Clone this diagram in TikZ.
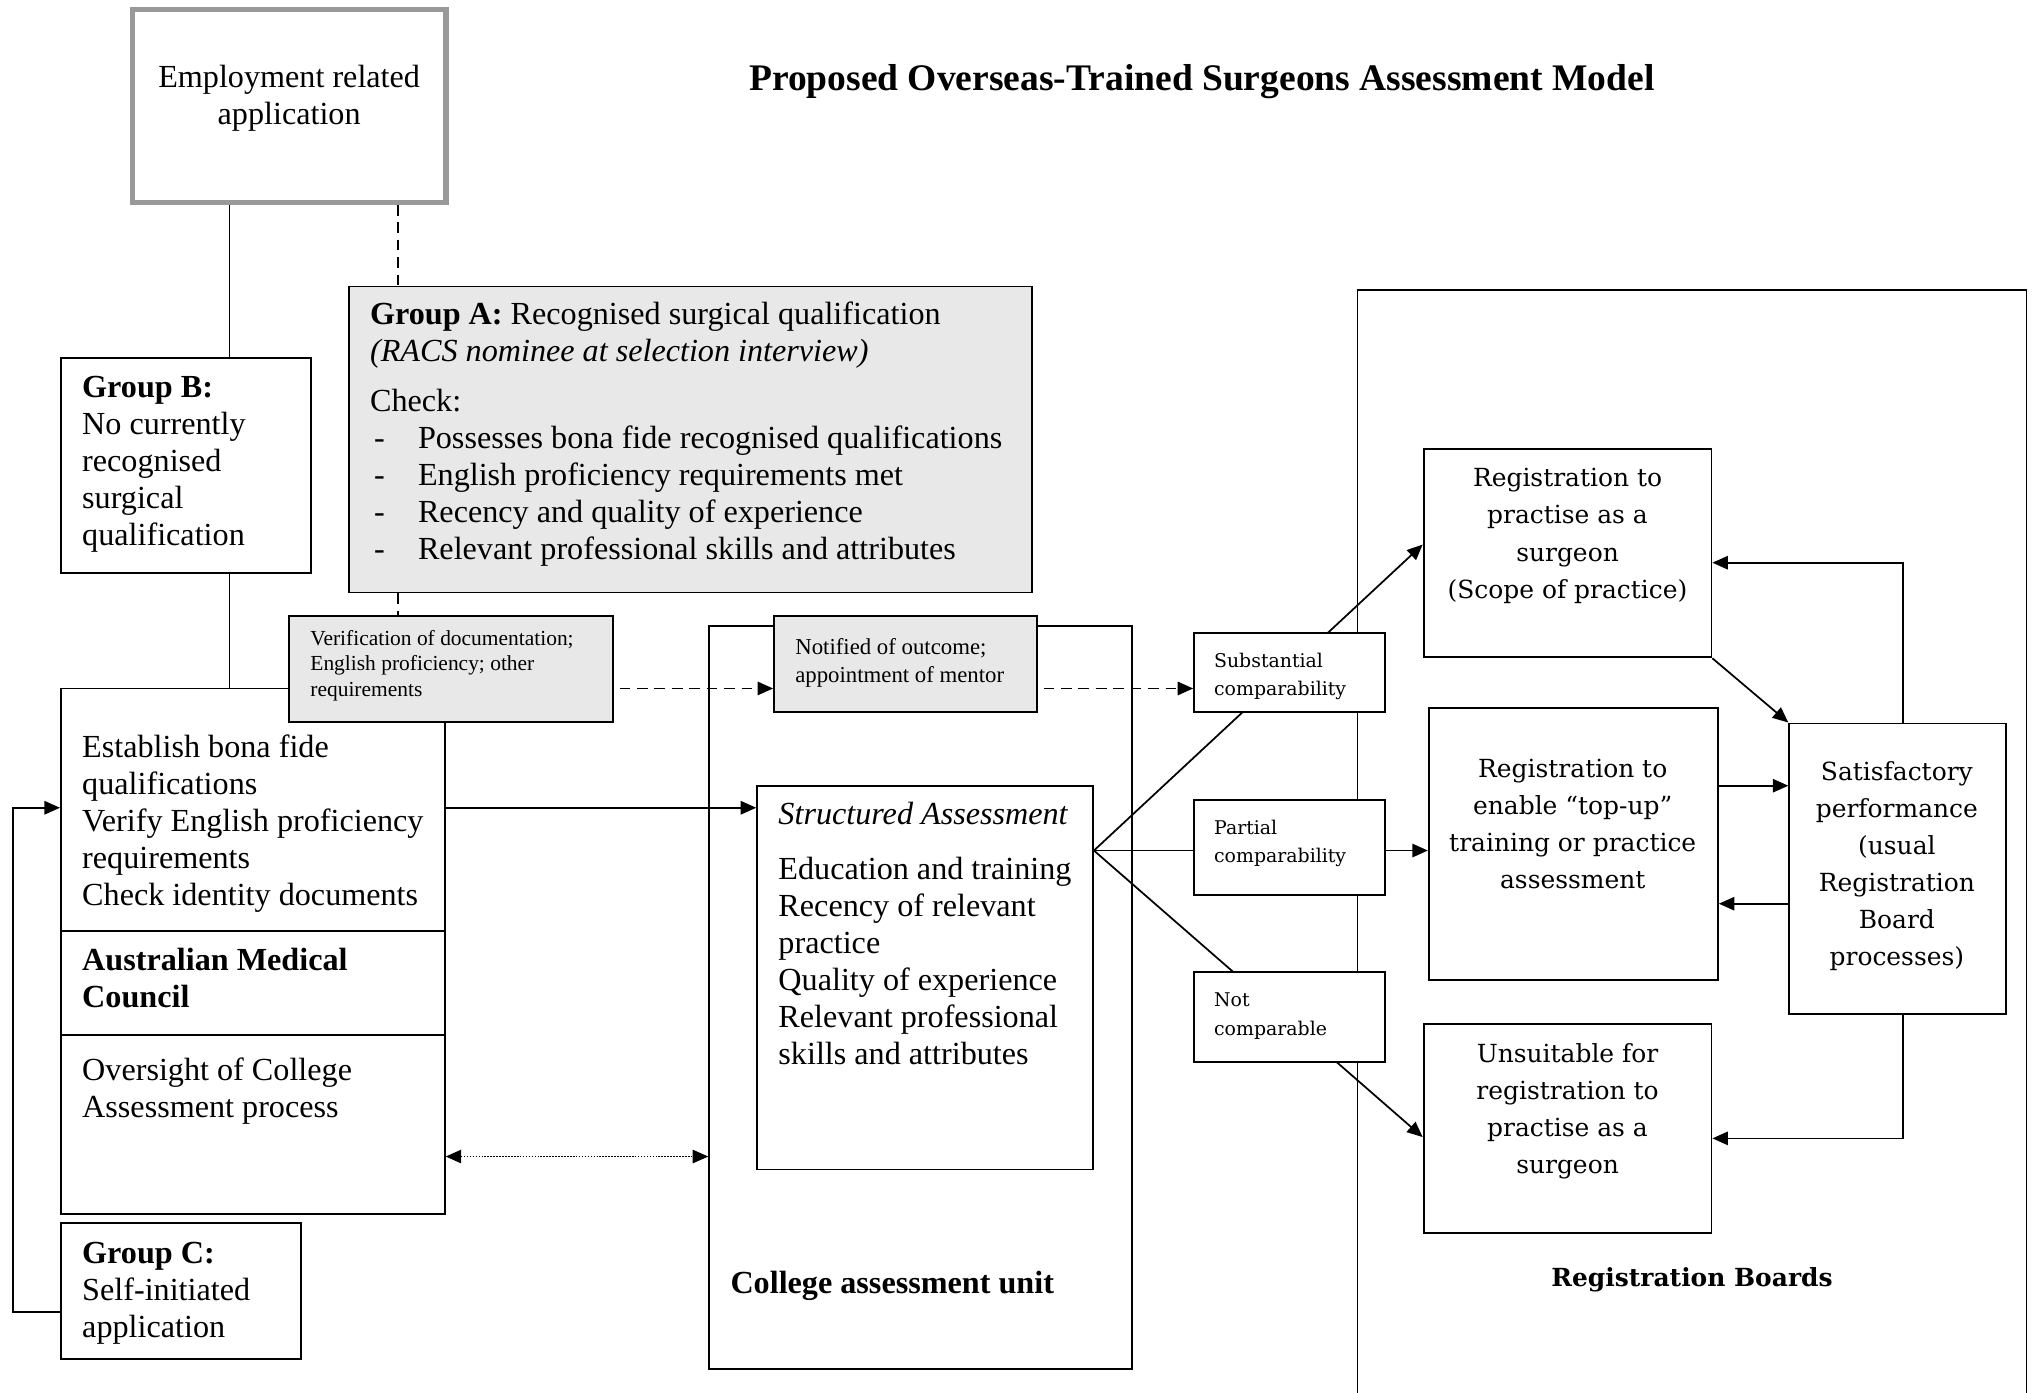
\documentclass[tikz,border=0pt]{standalone}
\usepackage{fontspec}
\setmainfont{Liberation Serif}
\newfontfamily\dvs{DejaVu Serif}
\usetikzlibrary{arrows.meta,fit}

\begin{document}
\begin{tikzpicture}[x=0.017cm,y=-0.017cm]
    \tikzset{
        box/.style={draw=black, line width=0.7pt, inner sep=0pt, fill=white},
        shaded/.style={box, fill=black!9},
        txt/.style={anchor=base west, inner sep=0pt, align=left, font=\fontsize{12}{13.8}\selectfont},
        small/.style={anchor=base west, inner sep=0pt, align=left, font=\fontsize{8}{9.4}\selectfont},
        rtxt/.style={anchor=base, inner sep=0pt, align=center, font=\dvs\fontsize{9.3}{13.85}\selectfont},
        rsmall/.style={anchor=base west, inner sep=0pt, align=left, font=\dvs\fontsize{7.05}{10.6}\selectfont},
        tip/.tip={Triangle[length=5.8pt,width=5pt]},
        link/.style={line width=0.65pt},
        arr/.style={link, -tip},
        dash link/.style={link, dash pattern=on 4pt off 2.5pt},
    }
    \useasboundingbox (0,0) rectangle (1568,1074);

    % helper coordinates for the connector heights
    \coordinate (bx) at (177,0);
    \coordinate (ax) at (307,0);
    \coordinate (sx) at (1468,0);
    \coordinate (dy) at (0,531);
    \coordinate (sy) at (0,623);
    \coordinate (fy) at (0,656);
    \coordinate (ddy) at (0,892);
    \coordinate (gcy) at (0,1012);
    \coordinate (r1y) at (0,420);
    \coordinate (r3y) at (0,877);
    \coordinate (p2y) at (0,606);
    \coordinate (p3y) at (0,697);
    \coordinate (t1y) at (0,434);
    \coordinate (t3y) at (0,878);

    % large frames
    \node[box, fill=none, fit={(1047,224) (1563,1110)}] (boards) {};
    \node[box, fit={(547,483) (873,1056)}] (college) {};
    \node[box, fit={(47,531) (343,936)}] (amc) {};
    \draw[box] (amc.west |- 0,718) -- (amc.east |- 0,718);
    \draw[box] (amc.west |- 0,798) -- (amc.east |- 0,798);

    \node[draw=black!40, line width=1.9pt, inner sep=0pt, fit={(102,7) (344,156)}] (emp) {};
    \node[shaded, fit={(269,221) (796,457)}] (grpA) {};
    \node[box, fit={(47,276) (240,442)}] (grpB) {};
    \node[box, fit={(47,943) (232,1048)}] (grpC) {};
    \node[box, fit={(584,606) (843,902)}] (struct) {};

    \node[box, fit={(1098,346) (1320,507)}] (reg1) {};
    \node[box, fit={(1102,546) (1325,756)}] (reg2) {};
    \node[box, fit={(1098,790) (1320,951)}] (reg3) {};
    \node[box, fit={(1380,558) (1547,782)}] (sat) {};

    % solid lines from the application box down the left side
    \draw[link] (emp.south -| bx) -- (grpB.north -| bx);
    \draw[link] (grpB.south -| bx) -- (amc.north -| bx);
    \draw[dash link] (emp.south -| ax) -- (grpA.north -| ax);

    % outcome fan, partly hidden by the outcome boxes
    \draw[arr] (struct.east |- fy) -- (reg1.west |- r1y);
    \draw[arr] (struct.east |- fy) -- (reg3.west |- r3y);

    \node[shaded, fit={(223,475) (473,557)}] (verif) {};
    \node[shaded, fit={(597,475) (800,549)}] (notif) {};
    \draw[dash link] (grpA.south -| ax) -- (verif.north -| ax);

    \node[box, fit={(921,488) (1068,549)}] (subst) {};
    \node[box, fit={(921,617) (1068,690)}] (partial) {};
    \node[box, fit={(921,750) (1068,819)}] (notcomp) {};
    \draw[link] (struct.east |- fy) -- (partial.west |- fy);
    \draw[arr] (partial.east |- fy) -- (reg2.west |- fy);

    % connectors
    \draw[dash link, -tip] ([xshift=2pt]verif.east |- dy) -- (notif.west |- dy);
    \draw[dash link, -tip] ([xshift=2pt]notif.east |- dy) -- (subst.west |- dy);
    \draw[arr] (amc.east |- sy) -- (struct.west |- sy);
    \draw[line width=0.5pt, dash pattern=on 0.6pt off 0.5pt, tip-tip]
        (amc.east |- ddy) -- (college.west |- ddy);
    \draw[arr] (grpC.west |- gcy) -- ++(-36,0) |- (amc.west |- sy);

    \draw[arr] (reg1.south east) -- (sat.north west);
    \draw[arr] (reg2.east |- p2y) -- (sat.west |- p2y);
    \draw[arr] (sat.west |- p3y) -- (reg2.east |- p3y);
    \draw[arr] (sat.north -| sx) |- (reg1.east |- t1y);
    \draw[arr] (sat.south -| sx) |- (reg3.east |- t3y);

    % texts (placed at the baseline of their last line)
    \node[anchor=base, inner sep=0pt, font=\bfseries\fontsize{14}{16}\selectfont] (title)
        at (927,69.5) {Proposed Overseas-Trained Surgeons Assessment Model};
    \node[txt, anchor=base, align=center] (emptext) at (223,96) {Employment related\\application};
    \node[txt] (grpAtext) at (285,431.2) {\textbf{Group A:} Recognised surgical qualification\\
        \textit{(RACS nominee at selection interview)}\\[4.6pt]
        Check:\\
        \hspace*{1.5pt}\makebox[16.4pt][l]{-}Possesses bona fide recognised qualifications\\
        \hspace*{1.5pt}\makebox[16.4pt][l]{-}English proficiency requirements met\\
        \hspace*{1.5pt}\makebox[16.4pt][l]{-}Recency and quality of experience\\
        \hspace*{1.5pt}\makebox[16.4pt][l]{-}Relevant professional skills and attributes};
    \node[txt] (grpBtext) at (63,420.6) {\textbf{Group B:}\\No currently\\recognised\\surgical\\qualification};
    \node[small] (veriftext) at (239,536.9) {Verification of documentation;\\English proficiency; other\\requirements};
    \node[small, font=\fontsize{8.5}{10.2}\selectfont] (notiftext) at (613,526.1) {Notified of outcome;\\appointment of mentor};
    \node[txt] (amctext) at (63,698.6) {Establish bona fide\\qualifications\\Verify English proficiency\\requirements\\Check identity documents};
    \node[txt, font=\bfseries\fontsize{12}{13.8}\selectfont] (amcname) at (63,777) {Australian Medical\\Council};
    \node[txt] (amcover) at (63,862) {Oversight of College\\Assessment process};
    \node[txt] (grpCtext) at (63,1031.6) {\textbf{Group C:}\\Self-initiated\\application};
    \node[txt] (structtext) at (600,821.2) {\textit{Structured Assessment}\\[7pt]
        Education and training\\Recency of relevant\\practice\\Quality of experience\\Relevant professional\\skills and attributes};
    \node[txt, font=\bfseries\fontsize{12}{13.8}\selectfont] (collegetext) at (563,997.5) {College assessment unit};

    \node[rsmall] (substtext) at (936,536.4) {Substantial\\comparability};
    \node[rsmall] (partialtext) at (936,665.4) {Partial\\comparability};
    \node[rsmall] (notcomptext) at (936,798.4) {Not\\comparable};
    \node[rtxt] (reg1text) at (1209,461.4) {Registration to\\practise as a\\surgeon\\(Scope of practice)};
    \node[rtxt] (reg2text) at (1213,685.4) {Registration to\\enable “top-up”\\training or practice\\assessment};
    \node[rtxt] (reg3text) at (1209,905.4) {Unsuitable for\\registration to\\practise as a\\surgeon};
    \node[rtxt, font=\dvs\fontsize{9.3}{13.75}\selectfont] (sattext) at (1463,744.5) {Satisfactory\\performance\\(usual\\Registration\\Board\\processes)};
    \node[rtxt, font=\dvs\bfseries\fontsize{9.3}{13.85}\selectfont] (boardstext) at (1305,992.5) {Registration Boards};
\end{tikzpicture}
\end{document}
